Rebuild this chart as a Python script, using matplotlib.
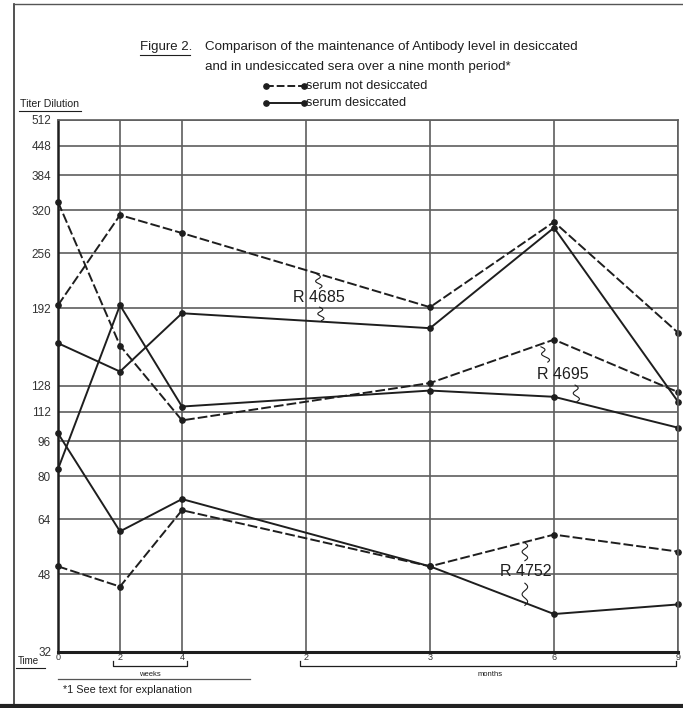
import numpy as np
import matplotlib
matplotlib.use("Agg")
import matplotlib.pyplot as plt
from matplotlib.lines import Line2D

# ---- data ----
time_labels = ["0", "2", "4", "2", "3", "6", "9"]      # weeks 0,2,4 ; months 2,3,6,9
time_slots = [0, 1, 2, 4, 6, 8, 10]                    # drawn slot of each time label
sample_slots = [0, 1, 2, 6, 8, 10]                     # times at which titers were measured
y_ticks = [32, 48, 64, 80, 96, 112, 128, 192, 256, 320, 384, 448, 512]
y_labels = ["32", "48", "64", "80", "96", "112", "128", "192", "256", "320", "384", "448", "512"]

r4685_not = [195, 312, 284, 193, 301, 169]
r4685_des = [160, 138, 187, 173, 292, 118]
r4695_not = [334, 158, 107, 130, 163, 124]
r4695_des = [83, 195, 115, 125, 121, 103]
r4752_not = [50, 45, 67, 50, 59, 54]
r4752_des = [100, 60, 71, 50, 39, 41]

W, H = 683, 708
plt.rcParams['font.family'] = ['Liberation Sans', 'DejaVu Sans']
fig = plt.figure(figsize=(W / 100, H / 100), dpi=100, facecolor='white')

def fx(px):
    return px / W

def fy(py):
    return 1 - py / H

ink = '#1e1e1e'
gridc = '#5e5e5e'

ax = fig.add_axes([fx(58), fy(652), fx(678) - fx(58), fy(120) - fy(652)])
ax.set_facecolor('white')
ax.set_yscale('log', base=2)
ax.set_ylim(32, 512)
ax.set_xlim(0, 10)
ax.set_yticks(y_ticks)
ax.set_yticklabels(y_labels)
ax.minorticks_off()
ax.set_xticks(time_slots)
ax.set_xticklabels(time_labels)
ax.tick_params(axis='y', length=0, labelsize=8.5, colors='#333333', pad=5)
ax.tick_params(axis='x', length=0, pad=1, labelsize=6.5, colors='#333333')
ax.grid(True, color=gridc, linewidth=1.2)
ax.set_axisbelow(True)
for s in ['top', 'right']:
    ax.spines[s].set_color(gridc)
    ax.spines[s].set_linewidth(1.2)
ax.spines['left'].set_color(ink)
ax.spines['left'].set_linewidth(1.8)
ax.spines['bottom'].set_color(ink)
ax.spines['bottom'].set_linewidth(2.2)

dash_kw = dict(color=ink, linewidth=1.4, linestyle=(0, (5, 1.6)), marker='o',
               markersize=3.8, clip_on=False)
solid_kw = dict(color=ink, linewidth=1.4, linestyle='-', marker='o',
                markersize=3.8, clip_on=False)

for series in (r4685_not, r4695_not, r4752_not):
    ax.plot(sample_slots, series, **dash_kw)
for series in (r4685_des, r4695_des, r4752_des):
    ax.plot(sample_slots, series, **solid_kw)

def squiggle(x0, x1, y0, y1):
    n = 25
    t = np.linspace(0, 1, n)
    ys = np.exp(np.log(y0) + t * (np.log(y1) - np.log(y0)))
    xs = x0 + t * (x1 - x0) + 0.045 * np.sin(t * 3 * np.pi)
    ax.plot(xs, ys, color=ink, linewidth=0.8)

# series annotations
ax.text(4.2, 203, "R 4685", fontsize=11.5, color=ink, ha='center', va='center')
squiggle(4.22, 4.18, 213, 229)
squiggle(4.22, 4.25, 193, 180)
ax.text(8.15, 136, "R 4695", fontsize=11.5, color=ink, ha='center', va='center')
squiggle(7.9, 7.79, 145, 157)
squiggle(8.34, 8.37, 128.6, 118)
ax.text(7.55, 48.6, "R 4752", fontsize=11.5, color=ink, ha='center', va='center')
squiggle(7.53, 7.53, 51.5, 56.5)
squiggle(7.53, 7.53, 45.8, 40.8)

# title
fig.text(fx(140), fy(47), "Figure 2.", fontsize=9.5, color=ink, va='center', ha='left')
fig.add_artist(Line2D([fx(140), fx(190)], [fy(55), fy(55)], color=ink, linewidth=0.8))
fig.text(fx(205), fy(47), "Comparison of the maintenance of Antibody level in desiccated",
         fontsize=9.6, color=ink, va='center', ha='left')
fig.text(fx(205), fy(67), "and in undesiccated sera over a nine month period*",
         fontsize=9.6, color=ink, va='center', ha='left')

# legend
fig.add_artist(Line2D([fx(266), fx(304)], [fy(86), fy(86)], color=ink, linewidth=1.4,
                      linestyle=(0, (4, 1.5)), marker='o', markersize=3.8, markevery=[0, 1]))
fig.text(fx(306), fy(86), "serum not desiccated", fontsize=9.2, color=ink, va='center', ha='left')
fig.add_artist(Line2D([fx(266), fx(304)], [fy(103), fy(103)], color=ink, linewidth=1.4,
                      marker='o', markersize=3.8))
fig.text(fx(306), fy(103), "serum desiccated", fontsize=9.2, color=ink, va='center', ha='left')

# axis captions
fig.text(fx(20), fy(104), "Titer Dilution", fontsize=7.6, color=ink, va='center', ha='left')
fig.add_artist(Line2D([fx(19), fx(81)], [fy(111), fy(111)], color=ink, linewidth=0.8))
fig.text(fx(18), fy(661), "Time", fontsize=7, color=ink, va='center', ha='left')
fig.add_artist(Line2D([fx(16), fx(45)], [fy(668), fy(668)], color=ink, linewidth=0.8))

# weeks / months brackets
fig.add_artist(Line2D([fx(113), fx(113), fx(187), fx(187)], [fy(661), fy(666), fy(666), fy(661)],
                      color=ink, linewidth=0.9))
fig.text(fx(150), fy(674), "weeks", fontsize=5.5, color=ink, va='center', ha='center')
fig.add_artist(Line2D([fx(300), fx(300), fx(676), fx(676)], [fy(661), fy(666), fy(666), fy(661)],
                      color=ink, linewidth=0.9))
fig.text(fx(490), fy(674), "months", fontsize=5.5, color=ink, va='center', ha='center')

# footnote
fig.add_artist(Line2D([fx(58), fx(250)], [fy(679), fy(679)], color='#555555', linewidth=0.9))
fig.text(fx(63), fy(690), "*1 See text for explanation", fontsize=7.8, color=ink, va='center', ha='left')

# paper border
fig.add_artist(Line2D([fx(14), fx(14)], [0, fy(4)], color='#333333', linewidth=1.2))
fig.add_artist(Line2D([fx(14), 1], [fy(4), fy(4)], color='#555555', linewidth=1.0))
fig.add_artist(Line2D([0, 1], [fy(706), fy(706)], color='#222222', linewidth=3))

fig.savefig("out.png", dpi=100, facecolor='white')
